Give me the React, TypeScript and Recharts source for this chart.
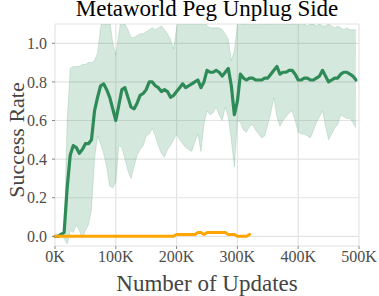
import React from 'react';
import { ComposedChart, Area, Line, XAxis, YAxis, CartesianGrid } from 'recharts';

// x positions in thousands of updates
const xs = [
  0, 5, 10, 15, 20, 25, 30, 35, 40, 45,
  50, 55, 60, 65, 70, 75, 80, 85, 90, 95,
  100, 105, 110, 115, 120, 125, 130, 135, 140, 145,
  150, 155, 160, 165, 170, 175, 180, 185, 190, 195,
  200, 205, 210, 215, 220, 225, 230, 235, 240, 245,
  250, 255, 260, 265, 270, 275, 280, 285, 290, 295,
  300, 305, 310, 315, 320, 325, 330, 335, 340, 345,
  350, 355, 360, 365, 370, 375, 380, 385, 390, 395,
  400, 405, 410, 415, 420, 425, 430, 435, 440, 445,
  450, 455, 460, 465, 470, 475, 480, 485, 490, 495,
];

const greenMean = [
  0, 0, 0.01, 0.02, 0.25, 0.42, 0.47, 0.46, 0.43, 0.45,
  0.48, 0.48, 0.5, 0.65, 0.72, 0.78, 0.79, 0.76, 0.72, 0.66,
  0.6, 0.68, 0.76, 0.77, 0.72, 0.67, 0.66, 0.69, 0.73, 0.74,
  0.76, 0.8, 0.8, 0.78, 0.77, 0.75, 0.76, 0.75, 0.72, 0.73,
  0.75, 0.77, 0.79, 0.77, 0.78, 0.79, 0.8, 0.81, 0.77, 0.8,
  0.86, 0.85, 0.85, 0.86, 0.85, 0.83, 0.85, 0.87, 0.78, 0.63,
  0.7, 0.84, 0.82, 0.81, 0.82, 0.82, 0.81, 0.81, 0.81, 0.82,
  0.82, 0.84, 0.86, 0.88, 0.84, 0.85, 0.85, 0.86, 0.86, 0.84,
  0.81, 0.81, 0.82, 0.82, 0.81, 0.81, 0.82, 0.83, 0.86, 0.83,
  0.8, 0.81, 0.82, 0.82, 0.84, 0.85, 0.85, 0.84, 0.83, 0.81,
];

const greenUpper = [
  0, 0, 0, 0.02, 0.6, 0.87, 0.88, 0.88, 0.88, 0.89,
  0.89, 0.9, 0.9, 0.91, 0.95, 1.08, 1.15, 1.15, 1.12, 1.0,
  0.94, 1.05, 1.15, 1.1, 1.07, 1.03, 1.03, 1.04, 1.05, 1.05,
  1.06, 1.07, 1.08, 1.07, 1.08, 1.09, 1.07, 1.05, 1.02, 0.97,
  1.08, 1.15, 1.15, 1.15, 1.15, 1.15, 1.15, 1.15, 1.15, 1.12,
  1.09, 1.08, 1.08, 1.08, 1.08, 1.07, 1.05, 1.02, 0.91, 0.96,
  1.1, 1.12, 1.1, 1.1, 1.12, 1.1, 1.11, 1.1, 1.12, 1.1,
  1.11, 1.1, 1.12, 1.11, 1.1, 1.12, 1.11, 1.1, 1.11, 1.12,
  1.1, 1.11, 1.1, 1.09, 1.1, 1.1, 1.09, 1.1, 1.09, 1.09,
  1.1, 1.09, 1.08, 1.09, 1.08, 1.07, 1.08, 1.07, 1.07, 1.07,
];

const greenLower = [
  0, 0, 0, -0.01, -0.04, 0.03, 0.02, 0.06, 0.03, -0.01,
  0.03, 0.06, 0.14, 0.4, 0.52, 0.48, 0.43, 0.36, 0.26, 0.25,
  0.28, 0.47, 0.46, 0.4, 0.34, 0.3, 0.36, 0.42, 0.45, 0.47,
  0.52, 0.53, 0.56, 0.52, 0.47, 0.43, 0.41, 0.45, 0.47, 0.5,
  0.53, 0.5, 0.48, 0.46, 0.45, 0.44, 0.49, 0.53, 0.44, 0.58,
  0.65, 0.63, 0.64, 0.67, 0.63, 0.6, 0.67, 0.62, 0.5, 0.36,
  0.6, 0.59, 0.55, 0.54, 0.57, 0.58, 0.55, 0.53, 0.51, 0.52,
  0.58, 0.64, 0.72, 0.62, 0.57, 0.6, 0.62, 0.64, 0.65, 0.6,
  0.54, 0.53, 0.53, 0.52, 0.51, 0.55, 0.59, 0.62, 0.65, 0.57,
  0.5, 0.53, 0.56, 0.58, 0.63, 0.62, 0.61, 0.61, 0.59, 0.56,
];

const orangeMean = [
  0, 0, 0, 0, 0, 0, 0, 0, 0, 0,
  0, 0, 0, 0, 0, 0, 0, 0, 0, 0,
  0, 0, 0, 0, 0, 0, 0, 0, 0, 0,
  0, 0, 0, 0, 0, 0, 0, 0, 0, 0,
  0.01, 0.01, 0.01, 0.01, 0.01, 0.01, 0.01, 0.02, 0.02, 0.01,
  0.02, 0.02, 0.02, 0.02, 0.02, 0.02, 0.02, 0.01, 0.01, 0.01,
  0, 0, 0, 0, 0.01,
];

const xTicks = [0, 100, 200, 300, 400, 500];
const yTicks = [0, 0.2, 0.4, 0.6, 0.8, 1.0];

const GREEN = '#2e8b57';
const ORANGE = '#ffa500';
const SERIF = '"Liberation Serif", "DejaVu Serif", serif';

const data = xs.map((x, i) => ({
  x,
  mean: greenMean[i],
  band: [greenLower[i], greenUpper[i]],
  orange: i < orangeMean.length ? orangeMean[i] : null,
}));

export default function App() {
  return (
    <div style={{ position: 'absolute', left: 0, top: 0, width: 379, height: 296, background: '#fff' }}>
      <div
        style={{
          position: 'absolute',
          left: 55,
          width: 304,
          top: 1,
          height: 18,
          lineHeight: '16px',
          textAlign: 'center',
          fontFamily: SERIF,
          fontSize: 23,
          color: '#000',
          whiteSpace: 'nowrap',
        }}
      >
        Metaworld Peg Unplug Side
      </div>
      <ComposedChart
        width={379}
        height={296}
        data={data}
        margin={{ top: 24, right: 20, left: 0, bottom: 0 }}
      >
        <CartesianGrid stroke="#e4e4e4" strokeWidth={1.2} />
        <XAxis
          dataKey="x"
          type="number"
          domain={[0, 500]}
          ticks={xTicks}
          tickFormatter={(v) => `${v}K`}
          height={50}
          axisLine={false}
          tickSize={3}
          tickMargin={2}
          tickLine={{ stroke: '#888' }}
          tick={{ fill: '#4d4d4d', fontSize: 16, fontFamily: SERIF }}
          label={{
            content: () => (
              <text x={207} y={283.5} textAnchor="middle" dominantBaseline="central" fill="#444" fontSize={23} fontFamily={SERIF}>
                Number of Updates
              </text>
            ),
          }}
        />
        <YAxis
          type="number"
          domain={[-0.05, 1.1]}
          allowDataOverflow
          ticks={yTicks}
          tickFormatter={(v) => v.toFixed(1)}
          width={55}
          axisLine={false}
          tickSize={3}
          tickMargin={5}
          tickLine={{ stroke: '#888' }}
          tick={{ fill: '#4d4d4d', fontSize: 16, fontFamily: SERIF }}
          label={{
            content: () => (
              <text
                x={16}
                y={140}
                transform="rotate(-90 16 140)"
                textAnchor="middle"
                dominantBaseline="central"
                fill="#444"
                fontSize={22}
                fontFamily={SERIF}
              >
                Success Rate
              </text>
            ),
          }}
        />
        <Area
          dataKey="band"
          type="linear"
          stroke={GREEN}
          strokeOpacity={0.25}
          strokeWidth={0.7}
          fill={GREEN}
          fillOpacity={0.2}
          isAnimationActive={false}
          dot={false}
          activeDot={false}
        />
        <Line
          dataKey="mean"
          type="linear"
          stroke={GREEN}
          strokeWidth={3.2}
          strokeLinejoin="round"
          strokeLinecap="round"
          dot={false}
          activeDot={false}
          isAnimationActive={false}
        />
        <Line
          dataKey="orange"
          type="linear"
          stroke={ORANGE}
          strokeWidth={3}
          strokeLinejoin="round"
          strokeLinecap="round"
          dot={false}
          activeDot={false}
          connectNulls={false}
          isAnimationActive={false}
        />
      </ComposedChart>
    </div>
  );
}
